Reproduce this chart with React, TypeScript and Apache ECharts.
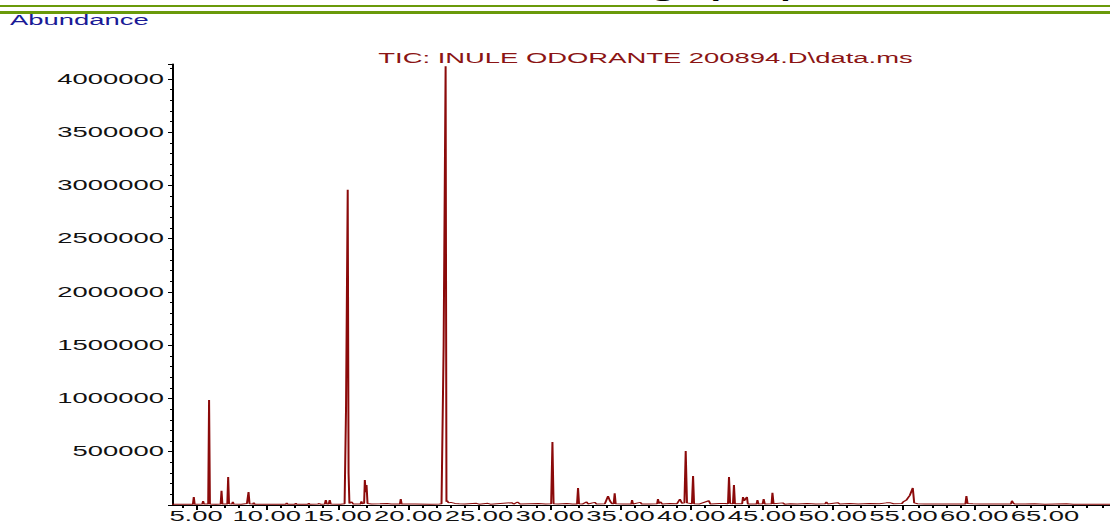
import React, { useEffect, useRef } from "react";
import * as echarts from "echarts";

// ---- data ----
const chartTitle = "TIC: INULE ODORANTE 200894.D\\data.ms";
const yAxisName = "Abundance";
const headerText = "Chromatographique";

const xLabelValues = [5, 10, 15, 20, 25, 30, 35, 40, 45, 50, 55, 60, 65];
const xMinorTickValues = [
  4, 5, 6, 7, 8, 9, 10, 11, 12, 13, 14, 15, 16, 17, 18, 19, 20, 21, 22, 23, 24, 25, 26, 27, 28, 29, 30, 31, 32, 33,
  34, 35, 36, 37, 38, 39, 40, 41, 42, 43, 44, 45, 46, 47, 48, 49, 50, 51, 52, 53, 54, 55, 56, 57, 58, 59, 60, 61,
  62, 63, 64, 65, 66, 67, 68, 69,
];

// [retention time (min), abundance]
const ticTrace: [number, number][] = [
  [3.3, 6000], [4.0, 7000], [4.78, 8000], [4.84, 75000], [4.9, 8000],
  [5.44, 9000], [5.5, 37000], [5.56, 9000], [5.86, 9000], [5.92, 985000], [5.98, 10000],
  [6.4, 8000], [6.74, 9000], [6.8, 134000], [6.86, 10000], [7.21, 10000], [7.27, 263000], [7.33, 12000],
  [7.55, 10000], [7.6, 30000], [7.66, 9000], [8.2, 8000], [8.6, 15000], [8.71, 122000], [8.78, 12000],
  [9.02, 9000], [9.08, 22000], [9.14, 8000], [10.0, 7000],
  [11.35, 8000], [11.41, 20000], [11.47, 8000], [12.0, 8000], [12.05, 18000], [12.1, 8000],
  [12.92, 8000], [12.97, 16000], [13.02, 8000], [13.6, 9000], [13.7, 14000], [13.8, 8000],
  [14.1, 9000], [14.17, 47000], [14.24, 10000], [14.38, 10000], [14.45, 47000], [14.52, 9000],
  [15.2, 8000], [15.5, 12000], [15.6, 900000], [15.72, 2960000], [15.78, 300000], [15.84, 15000],
  [16.0, 30000], [16.1, 10000], [16.63, 10000], [16.69, 35000], [16.75, 12000], [16.88, 15000],
  [16.93, 235000], [16.99, 120000], [17.05, 188000], [17.12, 15000], [17.4, 10000],
  [18.0, 12000], [18.5, 15000], [18.8, 10000], [19.41, 10000], [19.47, 55000], [19.53, 10000],
  [20.5, 9000], [21.5, 8000], [22.2, 9000], [22.35, 12000], [22.5, 1500000], [22.64, 4120000],
  [22.7, 30000], [22.75, 40000], [22.85, 20000], [23.0, 25000], [23.3, 15000], [23.6, 12000], [24.0, 10000],
  [24.82, 16000], [25.0, 8000], [25.62, 16000], [25.8, 8000], [27.3, 22000], [27.45, 9000],
  [27.72, 28000], [27.9, 9000], [28.6, 12000], [29.2, 14000], [29.7, 10000],
  [30.1, 12000], [30.19, 591000], [30.27, 12000], [30.6, 10000], [31.2, 15000], [31.6, 9000],
  [31.93, 10000], [32.0, 159000], [32.07, 12000], [32.3, 9000], [32.61, 30000], [32.7, 10000],
  [33.18, 25000], [33.3, 9000], [33.9, 12000], [34.12, 84000], [34.25, 40000], [34.31, 40000],
  [34.4, 12000], [34.52, 12000], [34.59, 110000], [34.66, 12000], [35.2, 9000], [35.76, 10000],
  [35.82, 47000], [35.88, 10000], [36.41, 25000], [36.5, 9000], [37.0, 10000], [37.59, 12000],
  [37.65, 56000], [37.72, 15000], [37.84, 30000], [37.95, 9000], [38.5, 14000], [39.0, 12000],
  [39.2, 56000], [39.35, 15000], [39.52, 20000], [39.61, 506000], [39.7, 20000], [40.05, 12000],
  [40.13, 272000], [40.2, 12000], [40.6, 10000], [41.24, 40000], [41.35, 10000], [42.0, 14000],
  [42.4, 15000], [42.6, 12000], [42.67, 263000], [42.75, 15000], [42.95, 12000], [43.02, 188000],
  [43.09, 12000], [43.6, 12000], [43.66, 75000], [43.74, 40000], [43.8, 40000], [43.94, 75000],
  [44.0, 10000], [44.62, 10000], [44.68, 47000], [44.75, 10000], [45.05, 12000], [45.12, 56000],
  [45.2, 10000], [45.68, 12000], [45.74, 115000], [45.82, 12000], [46.47, 20000], [46.6, 8000],
  [47.0, 12000], [47.5, 9000], [48.2, 15000], [48.8, 10000], [49.48, 12000], [49.55, 30000],
  [49.65, 10000], [50.35, 22000], [50.5, 9000], [51.2, 15000], [51.8, 10000], [52.6, 14000],
  [53.3, 12000], [53.8, 20000], [54.03, 22000], [54.3, 12000], [54.9, 14000], [54.98, 30000],
  [55.2, 45000], [55.45, 90000], [55.66, 160000], [55.76, 20000], [56.0, 12000], [56.5, 10000],
  [57.3, 9000], [58.2, 10000], [59.38, 10000], [59.45, 84000], [59.53, 15000], [59.9, 12000],
  [60.4, 10000], [61.5, 9000], [62.6, 10000], [62.67, 40000], [62.75, 20000], [62.85, 10000],
  [63.6, 9000], [64.28, 12000], [65.0, 8000], [66.52, 12000], [67.0, 8000], [68.0, 8000], [69.6, 8000],
];

const FONT = '"Liberation Sans", Arial, Helvetica, sans-serif';

export default function App() {
  const ref = useRef<HTMLDivElement>(null);

  useEffect(() => {
    if (!ref.current) return;
    const chart = echarts.init(ref.current, undefined, { renderer: "svg" });
    chart.setOption({
      animation: false,
      backgroundColor: "#ffffff",
      grid: { left: 86, right: 0, top: 64, bottom: 20, outerBoundsMode: "none" },
      xAxis: [
        {
          type: "value",
          min: 3.3,
          max: 69.6,
          position: "bottom",
          axisLine: { show: true, onZero: false, lineStyle: { color: "#000", width: 1 } },
          axisTick: { show: true, inside: false, length: 5, customValues: xLabelValues, lineStyle: { color: "#000" } },
          axisLabel: {
            show: true,
            customValues: xLabelValues,
            formatter: (v: number) => v.toFixed(2),
            color: "#111",
            fontFamily: FONT,
            fontSize: 13.7,
            margin: 4,
          },
          splitLine: { show: false },
        },
        {
          type: "value",
          min: 3.3,
          max: 69.6,
          position: "bottom",
          axisLine: { show: false },
          axisTick: { show: true, inside: false, length: 3, customValues: xMinorTickValues, lineStyle: { color: "#000" } },
          axisLabel: { show: false },
          splitLine: { show: false },
        },
      ],
      yAxis: {
        type: "value",
        min: 0,
        max: 4140000,
        interval: 500000,
        axisLine: { show: true, lineStyle: { color: "#000", width: 1 } },
        axisTick: { show: true, inside: false, length: 2, lineStyle: { color: "#000" } },
        minorTick: { show: true, splitNumber: 5, length: 1, lineStyle: { color: "#000" } },
        axisLabel: {
          formatter: (v: number) => (v === 0 ? "" : String(v)),
          showMaxLabel: false,
          color: "#111",
          fontFamily: FONT,
          fontSize: 13.7,
          margin: 4,
        },
        splitLine: { show: false },
      },
      graphic: [
        { type: "rect", left: 0, top: 5, shape: { width: 555, height: 2 }, style: { fill: "#6a9a0a" }, silent: true },
        { type: "rect", left: 0, top: 11, shape: { width: 555, height: 3 }, style: { fill: "#6a9a0a" }, silent: true },
        {
          type: "text",
          x: 236,
          y: -10,
          style: { text: headerText, fill: "#000", font: `bold 19px ${FONT}`, align: "left", verticalAlign: "middle" },
          silent: true,
        },
        {
          type: "text",
          x: 5,
          y: 20.5,
          style: { text: yAxisName, fill: "#1a1a96", font: `13.7px ${FONT}`, align: "left", verticalAlign: "middle" },
          silent: true,
        },
        {
          type: "text",
          x: 322.75,
          y: 58.7,
          style: { text: chartTitle, fill: "#8b1414", font: `13.7px ${FONT}`, align: "center", verticalAlign: "middle" },
          silent: true,
        },
      ],
      series: [
        {
          type: "line",
          xAxisIndex: 0,
          yAxisIndex: 0,
          data: ticTrace,
          showSymbol: false,
          symbol: "none",
          clip: true,
          lineStyle: { color: "#8b0a0a", width: 1 },
        },
      ],
    });
    return () => chart.dispose();
  }, []);

  return (
    <div style={{ position: "fixed", left: 0, top: 0, width: 1110, height: 525, overflow: "hidden", background: "#fff" }}>
      <div
        ref={ref}
        style={{ width: 555, height: 525, transform: "scale(2, 1)", transformOrigin: "0 0" }}
      />
    </div>
  );
}
